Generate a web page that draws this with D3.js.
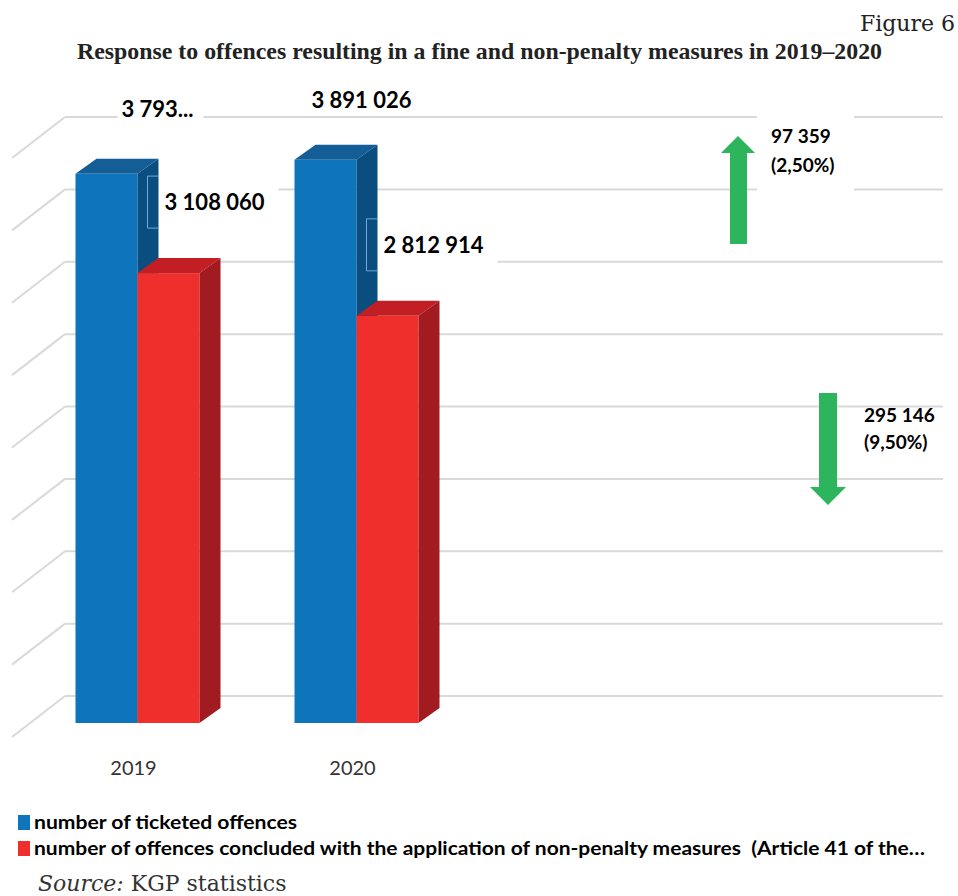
<!DOCTYPE html>
<html><head><meta charset="utf-8">
<script src="https://cdn.jsdelivr.net/npm/d3@7"></script>
<style>body{margin:0;background:#fff}svg{display:block}text{white-space:pre}</style>
</head><body>
<svg id="c" width="958" height="896"></svg>
<script>
// ---- data ----
const years = ["2019", "2020"];
const seriesNames = ["number of ticketed offences",
  "number of offences concluded with the application of non-penalty measures  (Article 41 of the\u2026"];
const ticketed = [3793667, 3891026];
const nonPenalty = [3108060, 2812914];
const ticketedLabels = ["3 793...", "3 891 026"];
const gridTicks = [0, 500000, 1000000, 1500000, 2000000, 2500000, 3000000, 3500000, 4000000];
const colors = {
  blue: {front: "#0e75bc", top: "#145e98", side: "#0a4e80"},
  red: {front: "#ee2f2c", top: "#c21e23", side: "#a11b20"}
};
const fmt = v => d3.format(",")(v).replace(/,/g, " ");

const svg = d3.select("#c");
// titles
svg.append("text").attr("x", 955).attr("y", 31).attr("text-anchor", "end")
  .attr("font-family", "DejaVu Serif").attr("font-size", 22).attr("fill", "#222").text("Figure 6");
svg.append("text").attr("x", 77).attr("y", 59)
  .attr("font-family", "Liberation Serif").attr("font-weight", "bold").attr("font-size", 23)
  .attr("fill", "#222").attr("textLength", 805).attr("lengthAdjust", "spacingAndGlyphs")
  .text("Response to offences resulting in a fine and non-penalty measures in 2019\u20132020");

// scales
const y = d3.scaleLinear().domain([0, 4000000]).range([723, 144]);
const x0 = d3.scaleBand().domain(years).range([28, 466]);
const x1 = d3.scaleBand().domain(["t", "n"]).range([0, x0.bandwidth()]).paddingOuter(0.766).paddingInner(0);
const wallDy = 27, gridX0 = 65, gridX1 = 943, sideDx = 53, sideDy = 41;
const bdx = 21, bdy = 15;

// gridlines
const g = svg.append("g");
gridTicks.forEach(t => {
  const yy = y(t) - wallDy;
  g.append("line").attr("x1", gridX0).attr("x2", gridX1).attr("y1", yy).attr("y2", yy)
    .attr("stroke", "#d9d9d9").attr("stroke-width", 2);
  g.append("line").attr("x1", gridX0).attr("x2", gridX0 - sideDx).attr("y1", yy).attr("y2", yy + sideDy)
    .attr("stroke", "#d9d9d9").attr("stroke-width", 2);
});

// white label boxes behind labels (cover gridlines)
const boxes = svg.append("g");

// bars
const bars = svg.append("g");
function bar3d(xL, w, v, c) {
  const yt = y(v), yb = y(0), xR = xL + w;
  bars.append("rect").attr("x", xL).attr("y", yt).attr("width", w).attr("height", yb - yt).attr("fill", c.front);
  bars.append("path").attr("d", `M${xL},${yt}L${xL + bdx},${yt - bdy}L${xR + bdx},${yt - bdy}L${xR},${yt}Z`).attr("fill", c.top);
  bars.append("path").attr("d", `M${xR},${yt}L${xR + bdx},${yt - bdy}L${xR + bdx},${yb - bdy}L${xR},${yb}Z`).attr("fill", c.side);
}
const labels = svg.append("g").attr("font-family", "Lato").attr("font-weight", "bold").attr("fill", "#000");
const blueLabelDx = [46, 17], blueLabelDy = [57, 52];
years.forEach((yr, i) => {
  const xb = x0(yr) + x1("t"), xr = x0(yr) + x1("n"), w = x1.bandwidth();
  bar3d(xb, w, ticketed[i], colors.blue);
  bar3d(xr, w, nonPenalty[i], colors.red);
  // blue label
  const ty = y(ticketed[i]) - blueLabelDy[i];
  if (i === 0) boxes.append("rect").attr("x", xb + 42).attr("y", ty - 20).attr("width", 86).attr("height", 26).attr("fill", "#fff");
  labels.append("text").attr("x", xb + blueLabelDx[i]).attr("y", ty).attr("font-size", 22).text(ticketedLabels[i]);
  // red label with bracket
  const yTop = y(nonPenalty[i]);
  const bx = xr + 10, by0 = yTop - 97, by1 = yTop - 45;
  boxes.append("rect").attr("x", xr + bdx).attr("y", by0).attr("width", 120).attr("height", by1 - by0).attr("fill", "#fff");
  svg.append("path").attr("d", `M${xr + bdx},${by0}L${bx},${by0}L${bx},${by1}L${xr + bdx},${by1}`)
    .attr("fill", "none").attr("stroke", "#6fa8dc").attr("stroke-width", 1);
  labels.append("text").attr("x", xr + 27).attr("y", (by0 + by1) / 2 + 8).attr("font-size", 22).text(fmt(nonPenalty[i]));
  // category label
  svg.append("text").attr("x", x0(yr) + x0.bandwidth() / 2 - 4).attr("y", 775).attr("text-anchor", "middle")
    .attr("font-family", "Lato").attr("font-size", 20).attr("fill", "#333").text(yr);
});

// change annotations
const dTicket = ticketed[1] - ticketed[0];
const dNon = nonPenalty[0] - nonPenalty[1];
const pctFmt = v => "(" + d3.format(".2f")(v * 100).replace(".", ",") + "%)";
const green = "#2db55d";
boxes.append("rect").attr("x", 757).attr("y", 110).attr("width", 97).attr("height", 84).attr("fill", "#fff");
// up arrow
svg.append("path").attr("d", "M730,244L730,153L721,153L738,136L755,153L747,153L747,244Z").attr("fill", green);
labels.append("text").attr("x", 771).attr("y", 143).attr("font-size", 19).text(fmt(dTicket));
labels.append("text").attr("x", 771).attr("y", 172).attr("font-size", 19).text(pctFmt(dTicket / ticketed[1]));
// down arrow
svg.append("path").attr("d", "M819,393L837,393L837,487L846,487L828,505L810,487L819,487Z").attr("fill", green);
labels.append("text").attr("x", 864).attr("y", 422).attr("font-size", 19).text(fmt(dNon));
labels.append("text").attr("x", 864).attr("y", 449).attr("font-size", 19).text(pctFmt(dNon / nonPenalty[0]));

// legend
const lg = svg.append("g");
const legColors = [colors.blue.front, colors.red.front];
const legLen = [263, 891];
seriesNames.forEach((s, i) => {
  const ly = 815 + i * 26;
  lg.append("rect").attr("x", 18).attr("y", ly).attr("width", 12).attr("height", 15).attr("fill", legColors[i]);
  lg.append("text").attr("x", 34).attr("y", ly + 14).attr("font-family", "Lato").attr("font-weight", "bold")
    .attr("font-size", 19).attr("fill", "#000").attr("textLength", legLen[i]).attr("lengthAdjust", "spacingAndGlyphs").text(s);
});
// source
const src = svg.append("text").attr("x", 38).attr("y", 891).attr("font-family", "DejaVu Serif").attr("font-size", 22).attr("fill", "#333");
src.append("tspan").attr("font-style", "italic").text("Source:");
src.append("tspan").text(" KGP statistics");
</script>
</body></html>
